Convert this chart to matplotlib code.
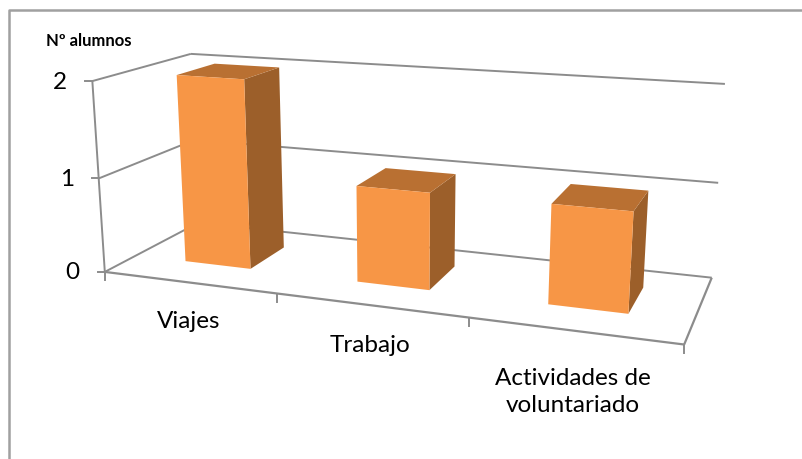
import numpy as np
import matplotlib
matplotlib.use("Agg")
import matplotlib.pyplot as plt
from matplotlib.patches import Polygon

categories = ["Viajes", "Trabajo", "Actividades de\nvoluntariado"]
values = [2, 1, 1]
y_ticks = [0, 1, 2]
y_title = "Nº alumnos"

COLOR_FRONT = "#F79646"
COLOR_TOP = "#B97032"
COLOR_SIDE = "#9C5F2A"
COLOR_AXIS = "#8C8C8C"

# camera fit: (category pos, depth, value) -> pixel position of the wall corners
world = np.array([[0, 0, 0], [3, 0, 0], [0, 1, 0], [3, 1, 0], [0, 0, 1],
                  [0, 0, 2], [0, 1, 2], [3, 1, 1], [3, 1, 2]], float)
pixels = np.array([[105, 272], [684, 345], [198, 223], [712, 277], [99, 178],
                   [92, 81], [191, 54], [718, 183], [725, 84]], float)


def fit_camera(w, p):
    rows = []
    for (x, y, z), (u, v) in zip(w, p):
        rows.append([x, y, z, 1, 0, 0, 0, 0, -u * x, -u * y, -u * z, -u])
        rows.append([0, 0, 0, 0, x, y, z, 1, -v * x, -v * y, -v * z, -v])
    return np.linalg.svd(np.array(rows))[2][-1].reshape(3, 4)


CAM = fit_camera(world, pixels)


def proj(x, y, z):
    q = CAM @ np.array([x, y, z, 1.0])
    return q[0] / q[2], q[1] / q[2]


plt.rcParams["font.family"] = ["Lato", "DejaVu Sans"]
fig = plt.figure(figsize=(8.03, 4.59), dpi=100)
ax = fig.add_axes([0, 0, 1, 1])
ax.set_xlim(0, 803)
ax.set_ylim(459, 0)
ax.axis("off")

n = len(categories)

# chart frame, right and bottom sides are cropped away
ax.plot([9.5, 9.5, 803], [459, 10, 10], color="#A0A0A0", lw=1.8)


def line(a, b, lw=1.4):
    ax.plot(*zip(proj(*a), proj(*b)), color=COLOR_AXIS, lw=lw, solid_capstyle="butt")


# walls and gridlines
for t in y_ticks:
    line((0, 0, t), (0, 1, t))
    line((0, 1, t), (n, 1, t))
    u, v = proj(0, 0, t)
    ax.plot([u - 7, u], [v, v], color=COLOR_AXIS, lw=1.4)
    ax.text(u - 32, v + 1, str(t), fontsize=17.5, ha="center", va="center", color="black")
line((0, 0, 0), (0, 0, max(y_ticks)))
line((0, 0, 0), (n, 0, 0), lw=1.6)
line((n, 0, 0), (n, 1, 0), lw=1.6)
for i in range(n + 1):
    u, v = proj(i, 0, 0)
    ax.plot([u, u], [v, v + 8], color=COLOR_AXIS, lw=1.4)

# bars do not overlap each other so the order is only per face
half_w, y0, y1 = 0.195, 0.31, 0.72
for i, val in enumerate(values):
    x0, x1 = i + 0.5 - half_w, i + 0.5 + half_w
    front = [proj(x0, y0, 0), proj(x1, y0, 0), proj(x1, y0, val), proj(x0, y0, val)]
    side = [proj(x1, y0, 0), proj(x1, y1, 0), proj(x1, y1, val), proj(x1, y0, val)]
    top = [proj(x0, y0, val), proj(x1, y0, val), proj(x1, y1, val), proj(x0, y1, val)]
    ax.add_patch(Polygon(side, fc=COLOR_SIDE, ec="none", zorder=3))
    ax.add_patch(Polygon(top, fc=COLOR_TOP, ec="none", zorder=3))
    ax.add_patch(Polygon(front, fc=COLOR_FRONT, ec="none", zorder=4))

label_pos = [(189, 321), (370, 345), (573, 392)]
for name, (u, v) in zip(categories, label_pos):
    ax.text(u, v, name, fontsize=17.5, ha="center", va="center", color="black", linespacing=1.4)

ax.text(46, 41, y_title, fontsize=12, fontweight="bold", ha="left", va="center", color="black")

fig.savefig("out.png", dpi=100)
